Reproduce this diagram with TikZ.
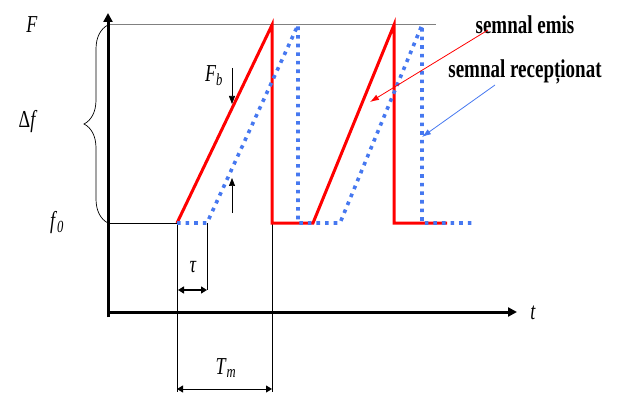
\documentclass[tikz,border=0pt]{standalone}
\usepackage{fontspec}
\setmainfont{Liberation Serif}
\usetikzlibrary{arrows.meta,decorations.pathreplacing}
\definecolor{sigred}{RGB}{255,0,0}
\definecolor{sigblue}{RGB}{70,120,240}
\tikzset{
  axis/.style={line width=3pt,-{Triangle[length=9pt,width=9pt]}},
  thin/.style={line width=0.7pt,black},
  emitted/.style={line width=3pt,sigred,line join=miter},
  received/.style={line width=3.6pt,sigblue,dash pattern=on 3.6pt off 5pt},
  dim/.style={line width=1.4pt,{Triangle[length=6pt,width=7pt]}-{Triangle[length=6pt,width=7pt]}},
  lbl/.style={inner sep=0pt,font=\fontsize{18}{20}\selectfont},
  txt/.style={inner sep=0pt,font=\fontsize{19}{22}\selectfont\bfseries},
  ptr/.style={line width=0.8pt,-{Latex[length=9pt,width=6pt]}}
}
\newcommand{\tall}[1]{\scalebox{1}[1.35]{#1}}
\begin{document}
\begin{tikzpicture}[x=1pt,y=1pt]
\useasboundingbox (0,0) rectangle (618,394);
% key coordinates
\coordinate (O) at (108,82);
\coordinate (Ybot) at (108,77);
\coordinate (Ytop) at (108,381);
\coordinate (Xend) at (517,82);
\coordinate (F0) at (108,171);
\coordinate (Top0) at (108,369);
\coordinate (TopEnd) at (436,369);
\coordinate (s0) at (177,171);
\coordinate (r1) at (272,369);
\coordinate (r2) at (272,171);
\coordinate (r3) at (313,171);
\coordinate (r4) at (394,369);
\coordinate (r5) at (394,171);
\coordinate (r6) at (447,171);
\coordinate (b1) at (207,171);
\coordinate (b2) at (298,369);
\coordinate (b3) at (298,171);
\coordinate (b4) at (340,171);
\coordinate (b5) at (422,369);
\coordinate (b6) at (422,171);
\coordinate (b7) at (476,171);
% top gray line
\draw[gray,line width=1pt] (Top0) -- (TopEnd);
% f0 line
\draw[thin] (F0) -- (s0);
% vertical guide lines
\coordinate (g1) at (177,2);
\coordinate (g2) at (272,2);
\coordinate (gt) at (207,104);
\draw[thin] (s0) -- (g1);
\draw[thin] (r2) -- (g2);
\draw[thin] (b1) -- (gt);
% brace
\draw[thin,decorate,decoration={brace,amplitude=24pt,aspect=0.5}] (108,171) -- (108,369);
% axes
\draw[axis] (Ybot) -- (Ytop);
\draw[line width=3pt] (Ybot) -- (O);
\draw[axis] (O) -- (Xend);
% signals
\draw[emitted] (s0) -- (r1) -- (r2) -- (r3) -- (r4) -- (r5) -- (r6);
\draw[received] (s0) -- (b1) -- (b2) -- (b3) -- (b4) -- (b5) -- (b6) -- (b7);
% F_b marker
\coordinate (fbT) at (232,326);
\coordinate (fbA) at (232,290);
\coordinate (fbB) at (232,181);
\coordinate (fbC) at (232,216);
\draw[thin,-{Triangle[length=8pt,width=6pt]}] (fbT) -- (fbA);
\draw[thin,-{Triangle[length=8pt,width=6pt]}] (fbB) -- (fbC);
% tau and Tm dimension arrows
\coordinate (ta) at (178,104);
\coordinate (tb) at (207,104);
\draw[dim] (ta) -- (tb);
\coordinate (ma) at (177,5);
\coordinate (mb) at (272,5);
\draw[dim,line width=1pt] (ma) -- (mb);
% labels
\node[lbl] (lF) at (32,369) {\tall{\textit{F}}};
\node[lbl] (lDf) at (28,272) {\tall{Δ\textit{f}}};
\node[lbl] (lf0) at (57,171) {\tall{\textit{f}\textsubscript{\textit{0}}}};
\node[lbl] (lFb) at (214,318) {\tall{\textit{F}\textsubscript{\textit{b}}}};
\node[lbl] (ltau) at (193,127) {\tall{\textit{τ}}};
\node[lbl] (lTm) at (226,26) {\tall{\textit{T}\textsubscript{\textit{m}}}};
\node[lbl] (lt) at (533,81) {\tall{\textit{t}}};
\node[txt] (emis) at (525,369) {\tall{semnal emis}};
\node[txt] (rec) at (525,322) {\tall{semnal recepționat}};
% pointers
\coordinate (pe) at (370,292);
\coordinate (pr) at (422,257);
\draw[ptr,sigred] (488,364) -- (pe);
\draw[ptr,sigblue] (495,309) -- (pr);
\end{tikzpicture}
\end{document}
